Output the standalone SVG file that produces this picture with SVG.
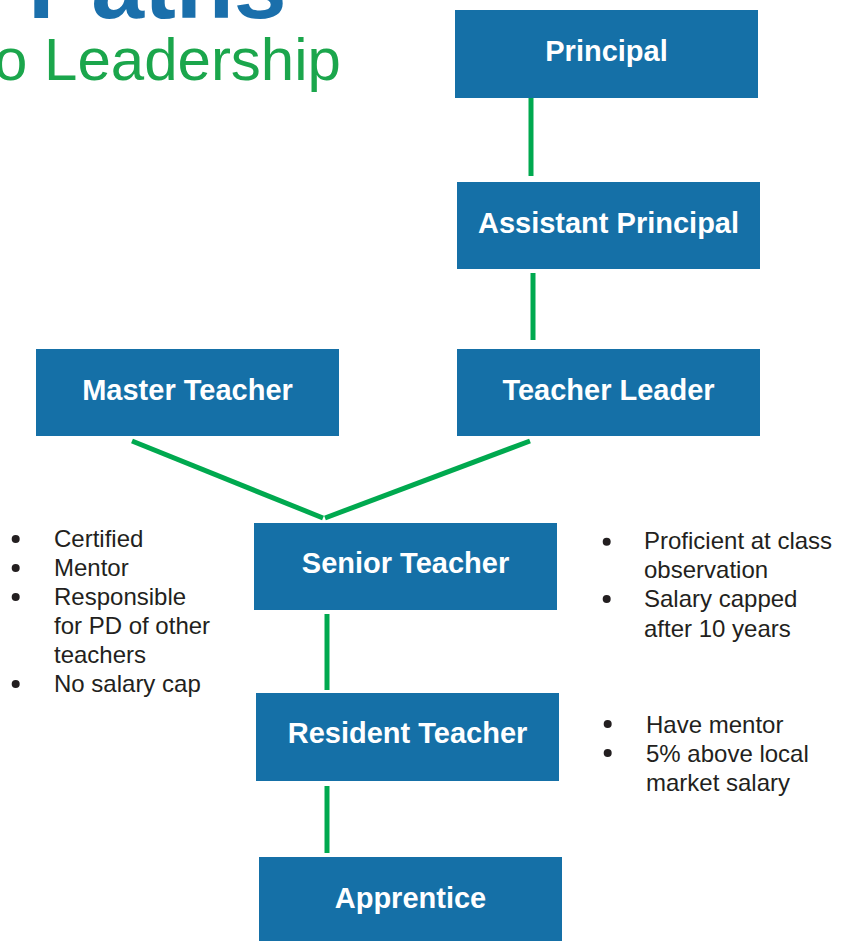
<svg xmlns="http://www.w3.org/2000/svg" width="852" height="941" viewBox="0 0 852 941">
<style>
.box{fill:#1570a7}
.lbl{font-family:"Liberation Sans",Arial,sans-serif;font-weight:bold;font-size:29px;fill:#ffffff;text-anchor:middle}
.con{stroke:#00a94f;stroke-width:5;fill:none}
.bt{font-family:"Liberation Sans",Arial,sans-serif;font-size:24px;fill:#231f20}
.dot{fill:#231f20}
</style>
<rect width="852" height="941" fill="#ffffff"/>
<g id="title">
<text x="28" y="18" font-family="Liberation Sans,Arial,sans-serif" font-weight="bold" font-size="95" fill="#1a6fab">Paths</text>
<text x="-6" y="80" font-family="Liberation Sans,Arial,sans-serif" font-size="60" fill="#1ba64c">o Leadership</text>
</g>
<g id="connectors">
<line class="con" x1="531" y1="96" x2="531" y2="176"/>
<line class="con" x1="533" y1="273" x2="533" y2="340"/>
<line class="con" x1="132" y1="441" x2="323" y2="518"/>
<line class="con" x1="530" y1="441" x2="325" y2="518"/>
<line class="con" x1="327" y1="614" x2="327" y2="690"/>
<line class="con" x1="327" y1="786" x2="327" y2="853"/>
</g>
<g id="principal"><rect class="box" x="455" y="10" width="303" height="88"/><text class="lbl" x="606.5" y="61">Principal</text></g>
<g id="assistant-principal"><rect class="box" x="457" y="182" width="303" height="87"/><text class="lbl" x="608.5" y="233">Assistant Principal</text></g>
<g id="master-teacher"><rect class="box" x="36" y="349" width="303" height="87"/><text class="lbl" x="187.5" y="400">Master Teacher</text></g>
<g id="teacher-leader"><rect class="box" x="457" y="349" width="303" height="87"/><text class="lbl" x="608.5" y="400">Teacher Leader</text></g>
<g id="senior-teacher"><rect class="box" x="254" y="523" width="303" height="87"/><text class="lbl" x="405.5" y="573">Senior Teacher</text></g>
<g id="resident-teacher"><rect class="box" x="256" y="693" width="303" height="88"/><text class="lbl" x="407.5" y="743">Resident Teacher</text></g>
<g id="apprentice"><rect class="box" x="259" y="857" width="303" height="87"/><text class="lbl" x="410.5" y="908">Apprentice</text></g>
<g id="notes-master">
<circle class="dot" cx="15.7" cy="539" r="4"/>
<circle class="dot" cx="15.7" cy="568" r="4"/>
<circle class="dot" cx="15.7" cy="597" r="4"/>
<circle class="dot" cx="15.7" cy="684" r="4"/>
<text class="bt" x="54" y="547">Certified</text>
<text class="bt" x="54" y="576">Mentor</text>
<text class="bt" x="54" y="605">Responsible</text>
<text class="bt" x="54" y="634">for PD of other</text>
<text class="bt" x="54" y="663">teachers</text>
<text class="bt" x="54" y="692">No salary cap</text>
</g>
<g id="notes-senior">
<circle class="dot" cx="606.7" cy="541.7" r="4"/>
<circle class="dot" cx="606.7" cy="599" r="4"/>
<text class="bt" x="644" y="549">Proficient at class</text>
<text class="bt" x="644" y="578">observation</text>
<text class="bt" x="644" y="607">Salary capped</text>
<text class="bt" x="644" y="636.5">after 10 years</text>
</g>
<g id="notes-resident">
<circle class="dot" cx="607.7" cy="724" r="4"/>
<circle class="dot" cx="607.7" cy="753" r="4"/>
<text class="bt" x="646" y="732.5">Have mentor</text>
<text class="bt" x="646" y="761.5">5% above local</text>
<text class="bt" x="646" y="790.5">market salary</text>
</g>
</svg>
